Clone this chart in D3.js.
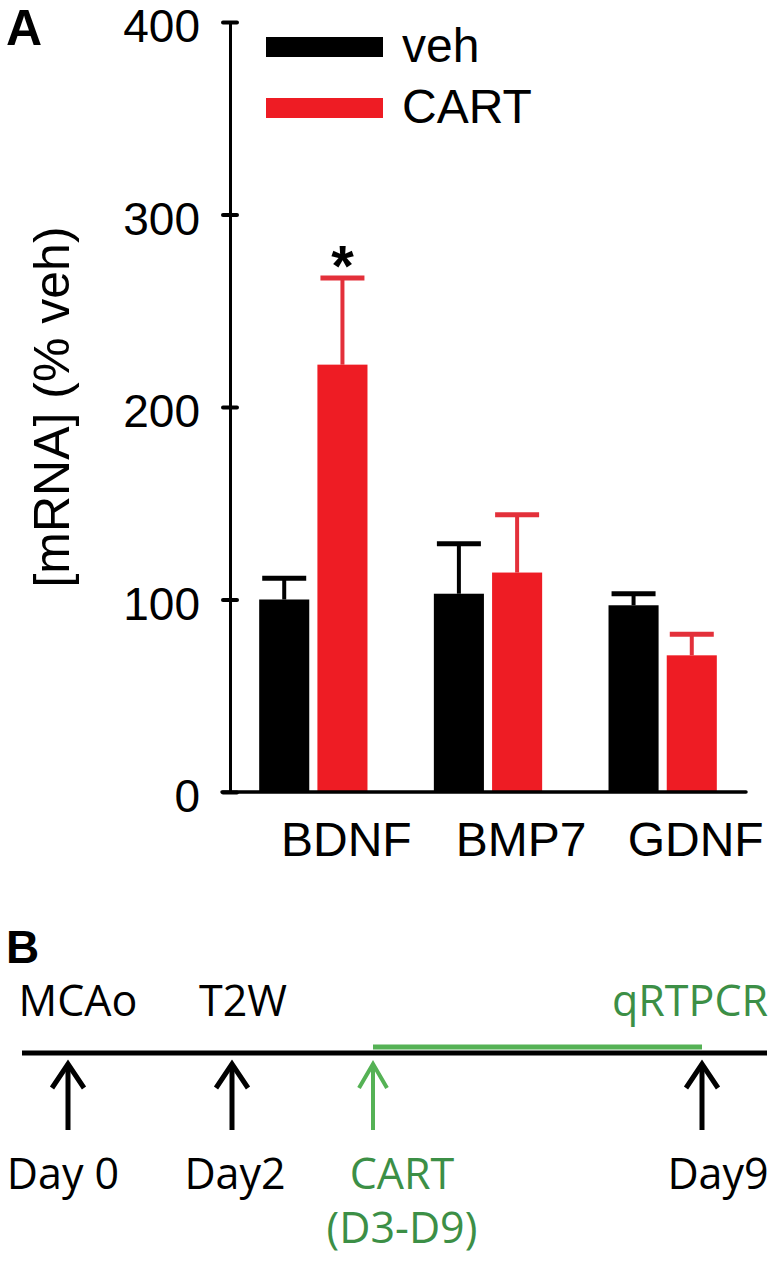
<!DOCTYPE html>
<html>
<head>
<meta charset="utf-8">
<script src="https://cdn.jsdelivr.net/npm/d3@7"></script>
<style>
  body { margin: 0; background: #fff; }
  svg { display: block; }
</style>
</head>
<body>
<div id="chart"></div>
<script>
// ---- data ----
var categories = ["BDNF", "BMP7", "GDNF"];
var groups = ["veh", "CART"];
var vehMean = [100, 103, 97];
var vehErr = [11, 26, 6];
var cartMean = [222, 114, 71];
var cartErr = [45, 30, 11];
var stars = ["*", "", ""];
var yTicks = [0, 100, 200, 300, 400];

// panel B timeline
var eventDays = [0, 2, 3, 9];
var eventTop = ["MCAo", "T2W", "", "qRTPCR"];
var eventBottom = ["Day 0", "Day2", "CART", "Day9"];
var eventSub = ["", "", "(D3-D9)", ""];
var treatmentDays = [3, 9];

// ---- layout ----
var width = 780, height = 1270;
var black = "#000", red = "#ee1c24", redErr = "#e3303a";
var greenText = "#3c8f46", greenLine = "#55b255";

var svg = d3.select("#chart").append("svg")
    .attr("width", width)
    .attr("height", height);

/* ------------------------------ Panel A ------------------------------*/
var axisX = 230;

var y = d3.scaleLinear()
    .domain([0, 400])
    .range([792, 22]);

var x0 = d3.scaleBand()
    .domain(categories)
    .range([226, 750])
    .paddingInner(0.38)
    .paddingOuter(0.19);

var x1 = d3.scaleBand()
    .domain(groups)
    .range([0, x0.bandwidth()])
    .paddingInner(0.14);

var rows = categories.map(function(c, i) {
  return [
    { cat: c, grp: "veh", mean: vehMean[i], err: vehErr[i] },
    { cat: c, grp: "CART", mean: cartMean[i], err: cartErr[i] }
  ];
});

var fill = function(g) { return g == "veh" ? black : red; };
var errColor = function(g) { return g == "veh" ? black : redErr; };

svg.append("text")
    .attr("x", 6).attr("y", 45)
    .attr("font-family", "Liberation Sans, Arial, sans-serif")
    .attr("font-weight", "bold")
    .attr("font-size", 50)
    .text("A");

// y axis
var yAxis = d3.axisLeft(y)
    .tickValues(yTicks)
    .tickSize(8)
    .tickSizeOuter(0)
    .tickPadding(22);

var ga = svg.append("g")
    .attr("transform", "translate(" + axisX + ",0)")
    .call(yAxis);

ga.select(".domain").attr("stroke", black).attr("stroke-width", 3);
ga.selectAll(".tick line")
    .attr("x1", 7).attr("x2", -7)
    .attr("stroke", black)
    .attr("stroke-width", 4)
    .attr("stroke-linecap", "round");
ga.selectAll(".tick text")
    .attr("fill", black)
    .attr("dy", "0.43em")
    .attr("font-family", "Liberation Sans, Arial, sans-serif")
    .attr("font-size", 46);

svg.append("text")
    .attr("transform", "translate(69," + 407 + ") rotate(-90)")
    .attr("text-anchor", "middle")
    .attr("font-family", "Liberation Sans, Arial, sans-serif")
    .attr("font-size", 50)
    .text("[mRNA] (% veh)");

// bars
var gBars = svg.append("g");
var grp = gBars.selectAll("g.cat")
    .data(rows)
    .enter().append("g")
    .attr("class", "cat")
    .attr("transform", function(d) { return "translate(" + x0(d[0].cat) + ",0)"; });

// error bars first (upper only)
grp.selectAll("line.err")
    .data(function(d) { return d; })
    .enter().append("line")
    .attr("x1", function(d) { return x1(d.grp) + x1.bandwidth() / 2; })
    .attr("x2", function(d) { return x1(d.grp) + x1.bandwidth() / 2; })
    .attr("y1", function(d) { return y(d.mean); })
    .attr("y2", function(d) { return y(d.mean + d.err); })
    .attr("stroke", function(d) { return errColor(d.grp); })
    .attr("stroke-width", 4);

grp.selectAll("line.cap")
    .data(function(d) { return d; })
    .enter().append("line")
    .attr("x1", function(d) { return x1(d.grp) + x1.bandwidth() / 2 - 22; })
    .attr("x2", function(d) { return x1(d.grp) + x1.bandwidth() / 2 + 22; })
    .attr("y1", function(d) { return y(d.mean + d.err); })
    .attr("y2", function(d) { return y(d.mean + d.err); })
    .attr("stroke", function(d) { return errColor(d.grp); })
    .attr("stroke-width", 5);

grp.selectAll("rect")
    .data(function(d) { return d; })
    .enter().append("rect")
    .attr("x", function(d) { return x1(d.grp); })
    .attr("width", x1.bandwidth())
    .attr("y", function(d) { return y(d.mean); })
    .attr("height", function(d) { return y(0) - y(d.mean); })
    .attr("fill", function(d) { return fill(d.grp); });

// significance
grp.append("text")
    .attr("x", x1("CART") + x1.bandwidth() / 2)
    .attr("y", function(d) { return y(d[1].mean + d[1].err) + 8; })
    .attr("text-anchor", "middle")
    .attr("font-family", "Liberation Sans, Arial, sans-serif")
    .attr("font-weight", "bold")
    .attr("font-size", 58)
    .text(function(d, i) { return stars[i]; });

// baseline
svg.append("line")
    .attr("x1", axisX - 8).attr("x2", x0.range()[1] - 4)
    .attr("y1", y(0)).attr("y2", y(0))
    .attr("stroke", black)
    .attr("stroke-width", 3.5)
    .attr("stroke-linecap", "round");

// category labels
svg.selectAll("text.cat")
    .data(categories)
    .enter().append("text")
    .attr("class", "cat")
    .attr("x", function(d) { return x0(d) + x0.bandwidth() / 2 + 33; })
    .attr("y", 856)
    .attr("text-anchor", "middle")
    .attr("font-family", "Liberation Sans, Arial, sans-serif")
    .attr("font-size", 48)
    .text(function(d) { return d; });

// legend
var leg = svg.append("g").selectAll("g")
    .data(groups)
    .enter().append("g")
    .attr("transform", function(d, i) { return "translate(266," + (37 + i * 61) + ")"; });
leg.append("rect")
    .attr("width", 117).attr("height", 20)
    .attr("fill", function(d) { return fill(d); });
leg.append("text")
    .attr("x", 136).attr("y", 25)
    .attr("font-family", "Liberation Sans, Arial, sans-serif")
    .attr("font-size", 48)
    .text(function(d) { return d; });

/* ------------------------------ Panel B ------------------------------*/
var tx = d3.scaleLinear()
    .domain(eventDays)
    .range([68, 232, 373, 702]);

var lineY = 1053;
var topDx = [10, 11, 0, -12];
var botDx = [-5, 3, 29, 16];
var fontB = "Open Sans, Noto Sans, sans-serif";

svg.append("text")
    .attr("x", 6).attr("y", 963)
    .attr("font-family", "Liberation Sans, Arial, sans-serif")
    .attr("font-weight", "bold")
    .attr("font-size", 46)
    .text("B");

svg.append("line")
    .attr("x1", 22).attr("x2", 767)
    .attr("y1", lineY).attr("y2", lineY)
    .attr("stroke", black)
    .attr("stroke-width", 5);

svg.append("line")
    .attr("x1", tx(treatmentDays[0])).attr("x2", tx(treatmentDays[1]))
    .attr("y1", lineY - 6).attr("y2", lineY - 6)
    .attr("stroke", greenLine)
    .attr("stroke-width", 5);

var isGreen = function(i) { return eventDays[i] == treatmentDays[0]; };

var ev = svg.append("g").selectAll("g")
    .data(eventDays)
    .enter().append("g")
    .attr("transform", function(d) { return "translate(" + tx(d) + ",0)"; });

// arrows
ev.append("line")
    .attr("x1", 0).attr("x2", 0)
    .attr("y1", 1066).attr("y2", 1130)
    .attr("stroke", function(d, i) { return isGreen(i) ? greenLine : black; })
    .attr("stroke-width", function(d, i) { return isGreen(i) ? 4 : 5; });
ev.append("path")
    .attr("d", function(d, i) {
      var w = isGreen(i) ? 14 : 16;
      return "M" + (-w) + "," + 1088 + "L0,1064L" + w + "," + 1088;
    })
    .attr("fill", "none")
    .attr("stroke", function(d, i) { return isGreen(i) ? greenLine : black; })
    .attr("stroke-width", function(d, i) { return isGreen(i) ? 4 : 5; })
    .attr("stroke-linejoin", "miter");

ev.append("text")
    .attr("x", function(d, i) { return topDx[i]; })
    .attr("y", 1016)
    .attr("text-anchor", "middle")
    .attr("font-family", fontB)
    .attr("font-size", 43)
    .attr("fill", function(d, i) { return i == eventDays.length - 1 ? greenText : black; })
    .text(function(d, i) { return eventTop[i]; });

ev.append("text")
    .attr("x", function(d, i) { return botDx[i]; })
    .attr("y", 1189)
    .attr("text-anchor", "middle")
    .attr("font-family", fontB)
    .attr("font-size", 43)
    .attr("fill", function(d, i) { return isGreen(i) ? greenText : black; })
    .text(function(d, i) { return eventBottom[i]; });

ev.append("text")
    .attr("x", function(d, i) { return botDx[i]; })
    .attr("y", 1243)
    .attr("text-anchor", "middle")
    .attr("font-family", fontB)
    .attr("font-size", 43)
    .attr("fill", greenText)
    .text(function(d, i) { return eventSub[i]; });
</script>
</body>
</html>
